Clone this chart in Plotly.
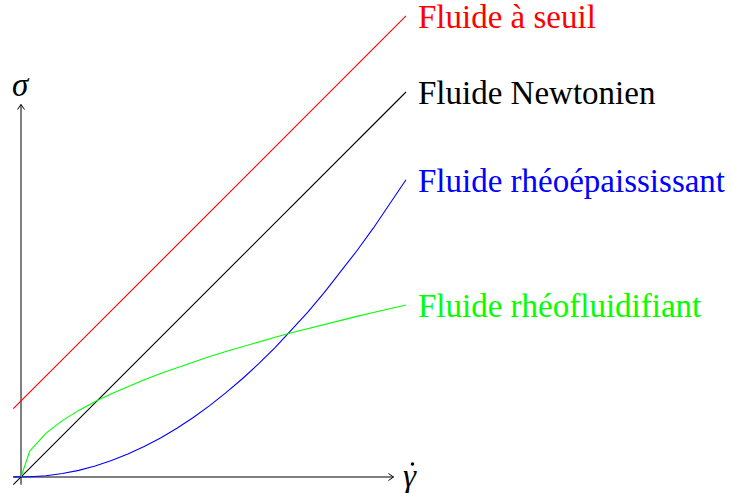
import plotly.graph_objects as go

# Shear rate samples and stress values for each fluid model
gamma_lin = [-0.08, 4.00]
sigma_newton = [-0.08, 4.00]
sigma_seuil = [0.71, 4.79]

gamma_samples = [-0.08, 0.09, 0.26, 0.43, 0.60, 0.77, 0.94, 1.11, 1.28, 1.45,
                 1.62, 1.79, 1.96, 2.13, 2.30, 2.47, 2.64, 2.81, 2.98, 3.15,
                 3.32, 3.49, 3.66, 3.83, 4.00]
sigma_epais = [0.001, 0.002, 0.013, 0.036, 0.069, 0.114, 0.171, 0.238, 0.316, 0.406,
               0.507, 0.618, 0.741, 0.876, 1.021, 1.177, 1.345, 1.524, 1.714, 1.915,
               2.127, 2.351, 2.585, 2.831, 3.088]

gamma_fluid = [0.00, 0.09, 0.26, 0.43, 0.60, 0.77, 0.94, 1.11, 1.28, 1.45,
               1.62, 1.79, 1.96, 2.13, 2.30, 2.47, 2.64, 2.81, 2.98, 3.15,
               3.32, 3.49, 3.66, 3.83, 4.00]
sigma_fluid = [0.000, 0.268, 0.456, 0.586, 0.692, 0.784, 0.866, 0.941, 1.011, 1.076,
               1.137, 1.195, 1.251, 1.304, 1.355, 1.404, 1.452, 1.498, 1.542, 1.586,
               1.628, 1.669, 1.709, 1.749, 1.787]

labels = ["Fluide Newtonien", "Fluide rhéoépaississant", "Fluide rhéofluidifiant", "Fluide à seuil"]
colors = ["#000000", "#0000ff", "#00ff00", "#ff0000"]

axis_start = -0.08
axis_end = 3.87

FONT = "Liberation Serif"
UNIT = 96.25  # pixels per data unit
W, H = 732, 493
ox, oy = 21, 477  # origin position in pixels

fig = go.Figure()

# axes
fig.add_trace(go.Scatter(x=[axis_start, axis_end], y=[0, 0], mode="lines",
                         line=dict(color="black", width=1)))
fig.add_trace(go.Scatter(x=[0, 0], y=[axis_start, axis_end], mode="lines",
                         line=dict(color="black", width=1)))
# open arrow tips
L = 5.0 / UNIT
Hw = 3.5 / UNIT
fig.add_trace(go.Scatter(x=[axis_end - L, axis_end, axis_end - L], y=[Hw, 0, -Hw],
                         mode="lines", line=dict(color="black", width=1)))
fig.add_trace(go.Scatter(x=[-Hw, 0, Hw], y=[axis_end - L, axis_end, axis_end - L],
                         mode="lines", line=dict(color="black", width=1)))

series = [
    (gamma_lin, sigma_newton),
    (gamma_samples, sigma_epais),
    (gamma_fluid, sigma_fluid),
    (gamma_lin, sigma_seuil),
]
for (xs, ys), c in zip(series, colors):
    fig.add_trace(go.Scatter(x=xs, y=ys, mode="lines", line=dict(color=c, width=1.1)))

# dot of the shear-rate symbol
fig.add_trace(go.Scatter(x=[axis_end + 19.0 / UNIT], y=[13.0 / UNIT], mode="markers",
                         marker=dict(color="black", size=3.5, symbol="circle")))

# curve labels at the right-hand end of each curve
for (xs, ys), c, t in zip(series, colors, labels):
    fig.add_annotation(x=xs[-1], y=ys[-1], text=t, showarrow=False,
                       xanchor="left", xshift=10, yshift=-1,
                       font=dict(family=FONT, size=33, color=c))

# axis symbols
fig.add_annotation(x=axis_end, y=0, text="<i>γ</i>", showarrow=False,
                   xanchor="left", xshift=8, yshift=1,
                   font=dict(family=FONT, size=33, color="black"))
fig.add_annotation(x=0, y=axis_end, text="<i>σ</i>", showarrow=False,
                   xanchor="center", yanchor="bottom",
                   font=dict(family=FONT, size=33, color="black"))

fig.update_layout(
    width=W, height=H,
    margin=dict(l=0, r=0, t=0, b=0),
    paper_bgcolor="white", plot_bgcolor="white",
    font=dict(family=FONT),
    showlegend=False,
    xaxis=dict(range=[-ox / UNIT, (W - ox) / UNIT], visible=False),
    yaxis=dict(range=[-(H - oy) / UNIT, oy / UNIT], visible=False),
)

fig.write_html("out.html")
